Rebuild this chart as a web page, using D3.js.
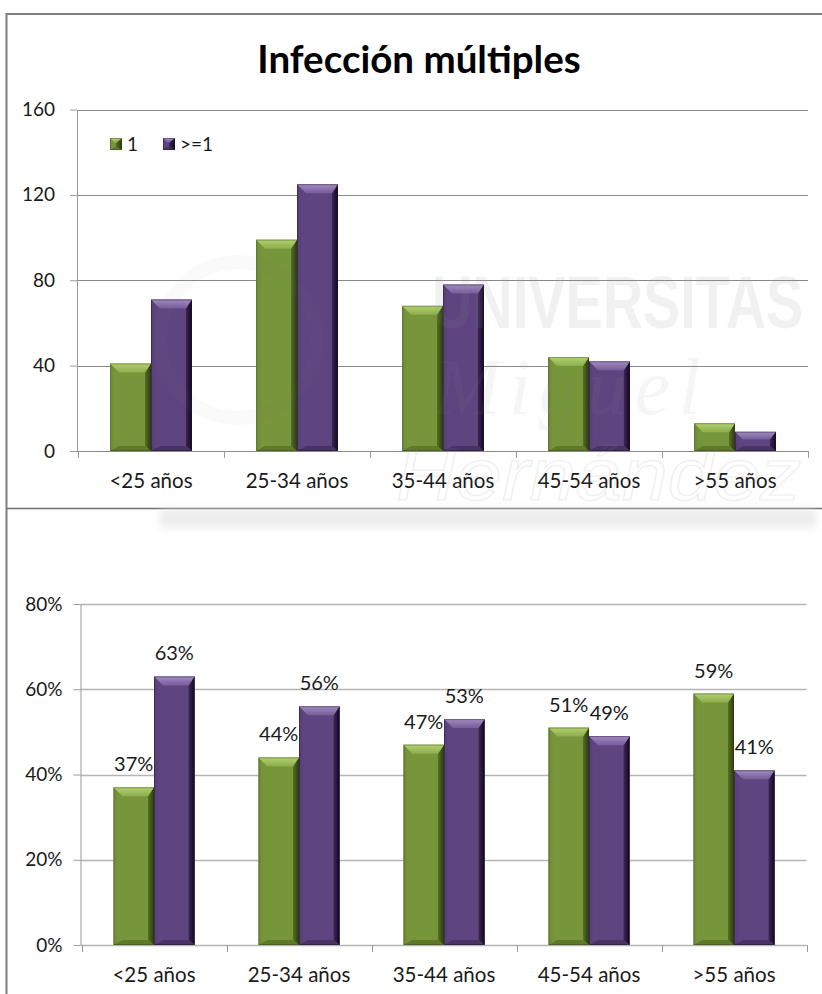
<!DOCTYPE html>
<html>
<head>
<meta charset="utf-8">
<script src="https://cdn.jsdelivr.net/npm/d3@7"></script>
<style>
  html, body { margin: 0; padding: 0; background: #fff; }
  svg { display: block; }
</style>
</head>
<body>
<script>
// Age groups and the two series
const categories = ["<25 años", "25-34 años", "35-44 años", "45-54 años", ">55 años"];
const seriesNames = ["1", ">=1"];

// Counts per age group
const countsOne  = [41, 99, 68, 44, 13];
const countsMore = [71, 125, 78, 42, 9];

// Share of each series within the age group (%)
const pctOne  = [37, 44, 47, 51, 59];
const pctMore = [63, 56, 53, 49, 41];

// Axis ticks
const countTicks = [0, 40, 80, 120, 160];
const pctTicks   = [0, 20, 40, 60, 80];

const W = 822, H = 994;
const svg = d3.select("body").append("svg").attr("width", W).attr("height", H);
svg.append("rect").attr("width", W).attr("height", H).attr("fill", "#fff");

const defs = svg.append("defs");

// Bevelled bar look: colours for each facet
const palette = {
  "1":   { body: "#77953a", light: "#b2d070", lightEnd: "#8dae4c", left: "#6c8a33", right: "#2b3a10", rightIn: "#566f25", bottom: "#5a7427" },
  ">=1": { body: "#5f4580", light: "#a28bc0", lightEnd: "#765c9a", left: "#553d74", right: "#12081f", rightIn: "#3b2854", bottom: "#44305d" }
};
seriesNames.forEach((s, i) => {
  const p = palette[s];
  const gb = defs.append("linearGradient").attr("id", "body" + i).attr("x1", "0").attr("x2", "1").attr("y1", "0").attr("y2", "0");
  gb.append("stop").attr("offset", "0%").attr("stop-color", p.left);
  gb.append("stop").attr("offset", "12%").attr("stop-color", p.body);
  gb.append("stop").attr("offset", "100%").attr("stop-color", p.body);
  const gr = defs.append("linearGradient").attr("id", "right" + i).attr("x1", "0").attr("x2", "1").attr("y1", "0").attr("y2", "0");
  gr.append("stop").attr("offset", "0%").attr("stop-color", p.rightIn);
  gr.append("stop").attr("offset", "100%").attr("stop-color", p.right);
  const gt = defs.append("linearGradient").attr("id", "top" + i).attr("x1", "0").attr("x2", "0").attr("y1", "0").attr("y2", "1");
  gt.append("stop").attr("offset", "0%").attr("stop-color", p.light);
  gt.append("stop").attr("offset", "100%").attr("stop-color", p.lightEnd);
});

defs.append("filter").attr("id", "soft").attr("x", "-10%").attr("y", "-50%").attr("width", "120%").attr("height", "200%")
  .append("feGaussianBlur").attr("stdDeviation", 4);

function bevelBar(g, x, w, yTop, yBase, si) {
  const h = yBase - yTop;
  if (h <= 0) return;
  const bt = Math.min(9, h / 2.5);
  const bb = Math.min(5, h / 4);
  const br = 6;
  const p = palette[seriesNames[si]];
  const bar = g.append("g");
  bar.append("rect").attr("x", x).attr("y", yTop).attr("width", w).attr("height", h)
    .attr("fill", `url(#body${si})`);
  // right facet
  bar.append("polygon")
    .attr("points", [[x + w, yTop], [x + w, yBase], [x + w - br, yBase - bb], [x + w - br, yTop + bt]].join(" "))
    .attr("fill", `url(#right${si})`);
  // bottom facet
  bar.append("polygon")
    .attr("points", [[x, yBase], [x + w, yBase], [x + w - br, yBase - bb], [x + bt, yBase - bb]].join(" "))
    .attr("fill", p.bottom).attr("opacity", 0.85);
  // top facet
  bar.append("polygon")
    .attr("points", [[x, yTop], [x + w, yTop], [x + w - br, yTop + bt], [x + bt, yTop + bt]].join(" "))
    .attr("fill", `url(#top${si})`);
  // thin outline
  bar.append("rect").attr("x", x + 0.5).attr("y", yTop + 0.5).attr("width", w - 1).attr("height", h - 1)
    .attr("fill", "none").attr("stroke", p.right).attr("stroke-opacity", 0.35).attr("stroke-width", 1);
}

function drawPanel(opts) {
  const { xRange, yRange, domainMax, ticks, tickFmt, values, labelOffset, gridColor, gridWidth,
          tickLabelX, labels } = opts;
  const g = svg.append("g");

  const x = d3.scaleBand().domain(categories).range(xRange).paddingInner(0.44).paddingOuter(0.22);
  const x1 = d3.scaleBand().domain(seriesNames).range([0, x.bandwidth()]);
  const y = d3.scaleLinear().domain([0, domainMax]).range(yRange);
  const step = x.step();

  // gridlines
  g.selectAll("line.grid").data(ticks).join("line")
    .attr("x1", xRange[0] - 1).attr("x2", xRange[1])
    .attr("y1", d => Math.round(y(d)) + 0.5).attr("y2", d => Math.round(y(d)) + 0.5)
    .attr("stroke", gridColor).attr("stroke-width", gridWidth);

  // y axis with outward ticks
  const yAxis = d3.axisLeft(y).tickValues(ticks).tickFormat(tickFmt).tickSize(7).tickSizeOuter(0).tickPadding(tickLabelX);
  const ya = g.append("g").attr("transform", `translate(${xRange[0] - 1},0)`).call(yAxis);
  ya.select(".domain").attr("stroke", "#9a9a9a");
  ya.selectAll(".tick line").attr("stroke", "#9a9a9a");
  ya.selectAll(".tick text").attr("font-family", "Lato, 'Open Sans', sans-serif").attr("font-size", 19).attr("fill", "#1a1a1a");

  // x category boundary ticks
  const bounds = d3.range(categories.length + 1).map(i => xRange[0] + i * step);
  g.selectAll("line.xt").data(bounds).join("line")
    .attr("x1", d => Math.round(d) + 0.5).attr("x2", d => Math.round(d) + 0.5)
    .attr("y1", y(0)).attr("y2", y(0) + 7)
    .attr("stroke", "#9a9a9a");

  // category labels
  g.selectAll("text.cat").data(categories).join("text")
    .attr("x", d => x(d) + x.bandwidth() / 2).attr("y", y(0) + 37)
    .attr("text-anchor", "middle")
    .attr("font-family", "Lato, 'Open Sans', sans-serif").attr("font-size", 20.5).attr("fill", "#1a1a1a")
    .text(d => d);

  // bars
  const barG = g.append("g");
  categories.forEach((c, ci) => {
    seriesNames.forEach((s, si) => {
      const v = values[si][ci];
      bevelBar(barG, x(c) + x1(s), x1.bandwidth(), y(v), y(0), si);
    });
  });

  // value labels
  if (labels) {
    categories.forEach((c, ci) => {
      seriesNames.forEach((s, si) => {
        const v = values[si][ci];
        g.append("text")
          .attr("x", x(c) + x1(s) + x1.bandwidth() / 2)
          .attr("y", y(v) - labelOffset)
          .attr("text-anchor", "middle")
          .attr("font-family", "Lato, 'Open Sans', sans-serif").attr("font-size", 20).attr("fill", "#1a1a1a")
          .text(v + "%");
      });
    });
  }
  return { x, y };
}

// frame lines
svg.append("line").attr("x1", 6.5).attr("x2", 6.5).attr("y1", 13).attr("y2", H).attr("stroke", "#808080").attr("stroke-width", 2);
svg.append("line").attr("x1", 6).attr("x2", W).attr("y1", 14).attr("y2", 14).attr("stroke", "#808080").attr("stroke-width", 2);

// upper panel: counts
svg.append("text").attr("x", 419).attr("y", 73).attr("text-anchor", "middle")
  .attr("font-family", "Lato, 'Open Sans', sans-serif").attr("font-weight", "bold").attr("font-size", 38.5).attr("fill", "#000")
  .text("Infección múltiples");

drawPanel({
  xRange: [78, 808], yRange: [451, 109.5], domainMax: 160, ticks: countTicks, tickFmt: d => d,
  values: [countsOne, countsMore], gridColor: "#8a8a8a", gridWidth: 1, tickLabelX: 15, labels: false
});

// legend
const legend = svg.append("g");
const legendX = [110, 163];
seriesNames.forEach((s, i) => {
  const lx = legendX[i];
  bevelBar(legend, lx, 12, 138, 150, i);
  legend.append("text").attr("x", lx + 17).attr("y", 150.5)
    .attr("font-family", "Lato, 'Open Sans', sans-serif").attr("font-size", 19).attr("fill", "#1a1a1a").text(s);
});

// lower panel: percentages
drawPanel({
  xRange: [81.5, 806.5], yRange: [945, 604], domainMax: 80, ticks: pctTicks, tickFmt: d => d + "%",
  values: [pctOne, pctMore], gridColor: "#b4b4b4", gridWidth: 1.6, tickLabelX: 11, labels: true, labelOffset: 16
});

// separator between panels
svg.append("line").attr("x1", 6).attr("x2", W).attr("y1", 508.5).attr("y2", 508.5).attr("stroke", "#707070").attr("stroke-width", 1.5);

// faint institutional watermark (condensed by horizontal scaling)
const wm = svg.append("g").attr("pointer-events", "none");
wm.append("rect").attr("x", 160).attr("y", 508).attr("width", 656).attr("height", 20)
  .attr("fill", "#dcdcdc").attr("opacity", 0.5).attr("filter", "url(#soft)");
wm.append("text").attr("transform", "translate(432,328) scale(0.755,1)")
  .attr("font-family", "'Liberation Sans', Arial, sans-serif").attr("font-weight", "bold").attr("font-size", 74)
  .attr("fill", "#8a8a8a").attr("opacity", 0.11).text("UNIVERSITAS");
wm.append("text").attr("transform", "translate(434,414) scale(1.0,1)")
  .attr("font-family", "'Liberation Serif', serif").attr("font-style", "italic").attr("font-size", 80)
  .attr("letter-spacing", 8)
  .attr("fill", "#8a8a8a").attr("opacity", 0.08).text("Miguel");
wm.append("text").attr("transform", "translate(396,500) scale(1.12,1)")
  .attr("font-family", "'Liberation Sans', Arial, sans-serif").attr("font-style", "italic").attr("font-size", 74)
  .attr("fill", "none").attr("stroke", "#8a8a8a").attr("stroke-width", 1.5).attr("opacity", 0.12).text("Hernández");
wm.append("circle").attr("cx", 238).attr("cy", 340).attr("r", 78)
  .attr("fill", "none").attr("stroke", "#8a8a8a").attr("stroke-width", 14).attr("opacity", 0.04);
</script>
</body>
</html>
